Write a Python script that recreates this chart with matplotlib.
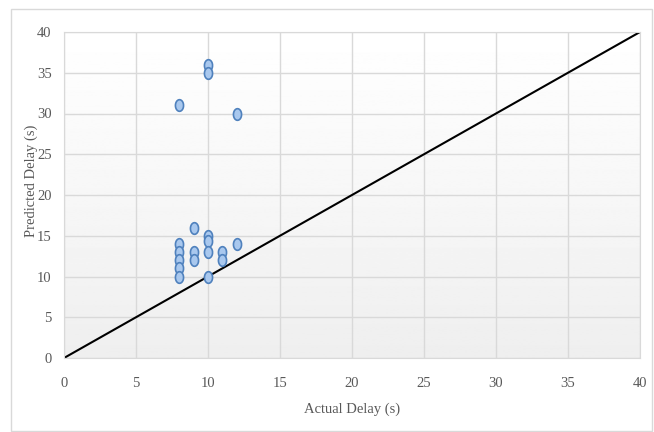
import numpy as np
import matplotlib
matplotlib.use("Agg")
import matplotlib.pyplot as plt
from matplotlib.path import Path
from matplotlib.patches import Rectangle

# values
actual = [10, 10, 8, 12, 9, 10, 10, 10, 10, 8, 8, 8, 8, 8, 9, 9, 11, 11, 12]
predicted = [36, 35, 31, 30, 16, 15, 14.3, 13, 10, 14, 13, 12, 11, 10, 13, 12, 13, 12, 14]
ticks = [0, 5, 10, 15, 20, 25, 30, 35, 40]
fit_line = [0, 40]

plt.rcParams['font.family'] = ['Liberation Serif', 'DejaVu Serif']

fig = plt.figure(figsize=(6.54, 4.32), dpi=100)
fig.patches.append(Rectangle((11/654, 1/432), 641/654, 422/432, transform=fig.transFigure,
                             fill=False, edgecolor='#d9d9d9', lw=1))
ax = fig.add_axes([64/654, 74/432, 576/654, 326/432])

# gradient background
grad = np.linspace(1.0, 0.935, 256).reshape(-1, 1)
ax.imshow(grad, extent=[0, 40, 0, 40], aspect='auto', cmap='gray', vmin=0, vmax=1,
          zorder=0, origin='upper')

ax.set_xlim(0, 40)
ax.set_ylim(0, 40)
ax.set_xticks(ticks)
ax.set_yticks(ticks)
ax.grid(True, color='#d9d9d9', lw=1, zorder=1)
ax.tick_params(length=0, labelsize=10.5, colors='#595959')
ax.tick_params(axis='x', pad=14)
ax.tick_params(axis='y', pad=9)
for s in ax.spines.values():
    s.set_color('#d9d9d9')

ax.plot(fit_line, fit_line, color='black', lw=1.5, zorder=2)

t = np.linspace(0, 2*np.pi, 40)
ell = Path(np.column_stack([0.7*np.cos(t), np.sin(t)]))
ax.scatter(actual, predicted, marker=ell, s=70, facecolor='#a9c8ee', edgecolor='#4f81bd',
           linewidths=1.2, zorder=3)

ax.set_xlabel('Actual Delay (s)', fontsize=10.5, color='#595959', labelpad=9)
ax.set_ylabel('Predicted Delay (s)', fontsize=10.5, color='#595959', labelpad=2)
ax.yaxis.set_label_coords(-0.046, 0.545)

fig.savefig('out.png', dpi=100)
